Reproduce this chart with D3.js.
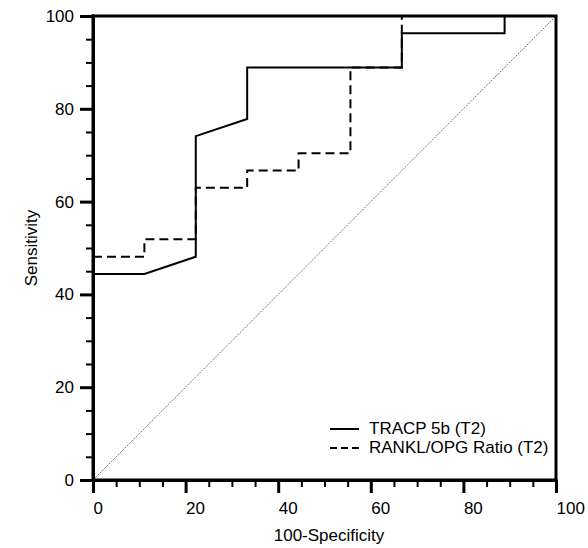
<!DOCTYPE html>
<html>
<head>
<meta charset="utf-8">
<script src="https://cdn.jsdelivr.net/npm/d3@7"></script>
<style>
  html, body { margin: 0; padding: 0; background: #fff; }
  svg { display: block; }
  text { font-family: "Liberation Sans", Arial, sans-serif; font-size: 17px; fill: #000; }
</style>
</head>
<body>
<svg id="chart" width="588" height="548"></svg>
<script>
// ---- data ----
const tracpX = [0, 11.1, 22.2, 22.2, 33.3, 33.3, 66.7, 66.7, 88.9, 88.9, 100];
const tracpY = [44.4, 44.4, 48.1, 74.1, 77.8, 88.9, 88.9, 96.3, 96.3, 100, 100];
const ranklX = [0, 11.1, 11.1, 22.2, 22.2, 33.3, 33.3, 44.4, 44.4, 55.6, 55.6, 66.7, 66.7, 100];
const ranklY = [48.1, 48.1, 51.9, 51.9, 63.0, 63.0, 66.7, 66.7, 70.4, 70.4, 88.9, 88.9, 100, 100];
const diagX = [0, 100];
const diagY = [0, 100];
const majorTicks = [0, 20, 40, 60, 80, 100];
const minorTicks = [5, 10, 15, 25, 30, 35, 45, 50, 55, 65, 70, 75, 85, 90, 95];
const seriesNames = ["TRACP 5b (T2)", "RANKL/OPG Ratio (T2)"];
const xTitle = "100-Specificity";
const yTitle = "Sensitivity";

// ---- layout ----
const svg = d3.select("#chart");
const L = 93, R = 556, T = 16, B = 480;
const x = d3.scaleLinear().domain([0, 100]).range([L, R]);
const y = d3.scaleLinear().domain([0, 100]).range([B, T]);

// diagonal reference
svg.append("path")
  .datum(diagX.map((d, i) => [d, diagY[i]]))
  .attr("d", d3.line().x(d => x(d[0])).y(d => y(d[1])))
  .attr("fill", "none").attr("stroke", "#666").attr("stroke-width", 0.9)
  .attr("stroke-dasharray", "2,1.2");

// series
const line = d3.line().x(d => x(d[0])).y(d => y(d[1]));
svg.append("path")
  .datum(ranklX.map((d, i) => [d, ranklY[i]]))
  .attr("d", line).attr("fill", "none").attr("stroke", "#000")
  .attr("stroke-width", 2).attr("stroke-dasharray", "9,5");
svg.append("path")
  .datum(tracpX.map((d, i) => [d, tracpY[i]]))
  .attr("d", line).attr("fill", "none").attr("stroke", "#000")
  .attr("stroke-width", 2);

// minor ticks
const xMinor = svg.append("g").attr("transform", `translate(0,${B})`)
  .call(d3.axisBottom(x).tickValues(minorTicks).tickSize(7).tickFormat(""));
const yMinor = svg.append("g").attr("transform", `translate(${L},0)`)
  .call(d3.axisLeft(y).tickValues(minorTicks).tickSize(7).tickFormat(""));
[xMinor, yMinor].forEach(g => {
  g.select(".domain").remove();
  g.selectAll(".tick line").attr("stroke", "#000").attr("stroke-width", 2);
});

// major axes
const xAxis = svg.append("g").attr("transform", `translate(0,${B})`)
  .call(d3.axisBottom(x).tickValues(majorTicks).tickSize(13).tickSizeOuter(0).tickPadding(9));
const yAxis = svg.append("g").attr("transform", `translate(${L},0)`)
  .call(d3.axisLeft(y).tickValues(majorTicks).tickSize(13).tickSizeOuter(0).tickPadding(6));
[xAxis, yAxis].forEach(g => {
  g.attr("font-family", null).attr("font-size", null);
  g.select(".domain").attr("stroke", "#000").attr("stroke-width", 3);
  g.selectAll(".tick line").attr("stroke", "#000").attr("stroke-width", 3);
  g.selectAll(".tick text").attr("fill", "#000");
});
xAxis.selectAll(".tick text").attr("text-anchor", "start").attr("x", 0);

// frame (top and right)
svg.append("path")
  .attr("d", `M${L},${T}H${R}V${B}`)
  .attr("fill", "none").attr("stroke", "#000").attr("stroke-width", 3)
  .attr("stroke-linecap", "square");
svg.append("path")
  .attr("d", `M${L},${T}V${B}H${R}`)
  .attr("fill", "none").attr("stroke", "#000").attr("stroke-width", 3)
  .attr("stroke-linecap", "square");

// axis titles
svg.append("text").attr("x", 329).attr("y", 541).attr("text-anchor", "middle").text(xTitle);
svg.append("text").attr("transform", `translate(37,${(T + B) / 2}) rotate(-90)`)
  .attr("text-anchor", "middle").text(yTitle);

// legend
const legend = svg.append("g");
const dashes = [null, "7,4"];
seriesNames.forEach((name, i) => {
  const ly = 429 + i * 19;
  legend.append("line").attr("x1", 330).attr("x2", 359).attr("y1", ly).attr("y2", ly)
    .attr("stroke", "#000").attr("stroke-width", 2)
    .attr("stroke-dasharray", dashes[i]);
  legend.append("text").attr("x", 369).attr("y", ly + 5).text(name);
});
</script>
</body>
</html>
